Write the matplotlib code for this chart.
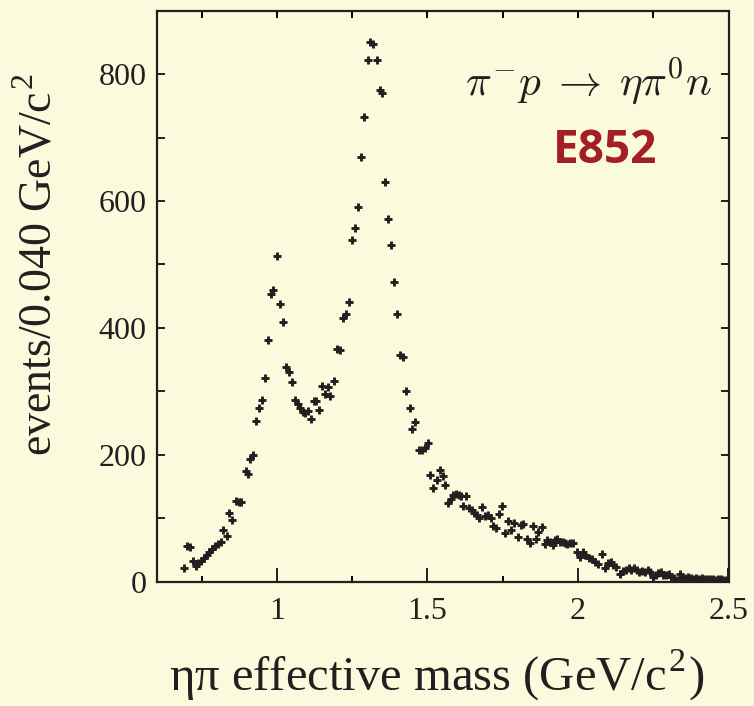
"""eta-pi effective mass spectrum, E852 style."""

import matplotlib
matplotlib.use("Agg")
import matplotlib.pyplot as plt
from matplotlib.ticker import MultipleLocator

# ---------------------------------------------------------------------------
# Data
# ---------------------------------------------------------------------------

mass = [
    0.690, 0.702, 0.711, 0.720, 0.731, 0.739, 0.749, 0.758, 0.767, 0.776,
    0.785, 0.795, 0.804, 0.813, 0.822, 0.833, 0.842, 0.851, 0.864, 0.873,
    0.882, 0.896, 0.903, 0.912, 0.919, 0.932, 0.940, 0.950, 0.960, 0.970,
    0.980, 0.988, 1.000, 1.011, 1.021, 1.030, 1.039, 1.049, 1.061, 1.069,
    1.077, 1.085, 1.093, 1.102, 1.112, 1.123, 1.131, 1.140, 1.150, 1.160,
    1.170, 1.175, 1.191, 1.201, 1.209, 1.221, 1.230, 1.240, 1.250, 1.260,
    1.270, 1.280, 1.290, 1.301, 1.309, 1.318, 1.331, 1.341, 1.350, 1.360,
    1.369, 1.379, 1.390, 1.400, 1.410, 1.420, 1.430, 1.441, 1.450, 1.460,
    1.471, 1.481, 1.491, 1.501, 1.510, 1.520, 1.532, 1.541, 1.551, 1.558,
    1.569, 1.577, 1.586, 1.595, 1.604, 1.613, 1.619, 1.628, 1.639, 1.647,
    1.655, 1.664, 1.672, 1.680, 1.691, 1.702, 1.710, 1.719, 1.727, 1.739,
    1.747, 1.758, 1.768, 1.776, 1.788, 1.801, 1.810, 1.819, 1.830, 1.839,
    1.850, 1.860, 1.868, 1.879, 1.891, 1.898, 1.907, 1.916, 1.924, 1.931,
    1.940, 1.949, 1.957, 1.964, 1.973, 1.984, 1.998, 2.007, 2.016, 2.025,
    2.036, 2.046, 2.057, 2.068, 2.080, 2.090, 2.099, 2.109, 2.118, 2.127,
    2.140, 2.149, 2.158, 2.168, 2.177, 2.187, 2.196, 2.204, 2.213, 2.222,
    2.231, 2.240, 2.249, 2.258, 2.267, 2.275, 2.284, 2.293, 2.302, 2.310,
    2.320, 2.329, 2.338, 2.347, 2.356, 2.366, 2.375, 2.384, 2.393, 2.402,
    2.411, 2.420, 2.429, 2.438, 2.447, 2.456, 2.465, 2.474, 2.483, 2.492,
    2.498,
]

events = [
    21, 57, 54, 33, 25, 29, 33, 38, 42, 47,
    51, 56, 59, 62, 82, 72, 108, 97, 127, 126,
    126, 174, 169, 193, 200, 253, 274, 286, 321, 381,
    453, 459, 514, 438, 410, 338, 330, 315, 286, 280,
    274, 268, 266, 269, 256, 285, 285, 271, 309, 296,
    307, 293, 316, 367, 365, 416, 422, 441, 538, 558,
    591, 670, 733, 823, 850, 847, 823, 775, 771, 630,
    572, 531, 472, 422, 358, 354, 301, 274, 240, 252,
    208, 208, 210, 218, 168, 148, 160, 176, 166, 152,
    124, 131, 137, 138, 137, 135, 119, 135, 116, 113,
    109, 105, 101, 118, 103, 105, 100, 88, 84, 107,
    120, 76, 96, 81, 92, 71, 89, 91, 67, 61,
    88, 67, 79, 86, 60, 65, 63, 58, 66, 67,
    63, 63, 61, 60, 61, 61, 47, 39, 47, 42,
    38, 35, 31, 28, 44, 21, 30, 31, 26, 23,
    12, 17, 19, 21, 19, 21, 18, 16, 17, 16,
    18, 16, 8, 11, 13, 16, 11, 10, 12, 7,
    6, 3, 12, 8, 6, 7, 6, 5, 6, 5,
    6, 5, 4, 5, 4, 3, 5, 4, 3, 2,
    4,
]

BG = "#f9fbdc"
INK = "#231f20"

plt.rcParams["mathtext.fontset"] = "cm"
serif = ["Liberation Serif", "DejaVu Serif"]

fig = plt.figure(figsize=(7.54, 7.06), dpi=100, facecolor=BG)
ax = fig.add_axes([156.5 / 754, 1 - 581.7 / 706, 572 / 754, 571 / 706])
ax.set_facecolor(BG)

ax.plot(mass, events, "+", color=INK, ms=5.8, mew=2.1)

ax.set_xlim(0.6, 2.5)
ax.set_ylim(0, 900)

ax.xaxis.set_major_locator(MultipleLocator(0.5))
ax.xaxis.set_minor_locator(MultipleLocator(0.25))
ax.yaxis.set_major_locator(MultipleLocator(200))
ax.yaxis.set_minor_locator(MultipleLocator(100))
ax.set_xticks([1, 1.5, 2, 2.5])
ax.set_xticklabels(["1", "1.5", "2", "2.5"])

for s in ax.spines.values():
    s.set_linewidth(1.6)
    s.set_color(INK)

ax.tick_params(axis="x", which="major", direction="in", length=10, width=1.4,
               top=False, pad=11, labelsize=23, colors=INK)
ax.tick_params(axis="x", which="minor", direction="in", length=4.5, width=1.4,
               top=False)
ax.tick_params(axis="y", which="both", direction="in", length=5.5, width=1.4,
               right=True, pad=7, labelsize=23, colors=INK)

# top ticks, all the same length
top = ax.secondary_xaxis("top")
top.set_xticks([0.75, 1.0, 1.25, 1.5, 1.75, 2.0, 2.25])
top.tick_params(direction="in", length=5, width=1.4, labeltop=False)
top.spines["top"].set_visible(False)

for lab in ax.get_xticklabels() + ax.get_yticklabels():
    lab.set_family(serif)

# axis titles placed in figure pixels, as in the reference
fig.text(436.5 / 754, 1 - 675 / 706,
         r"ηπ effective mass (GeV/c$^{\mathregular{2}}$)",
         fontsize=35, family=serif, ha="center", va="center", color=INK)
fig.text(40 / 754, 1 - 265 / 706,
         r"events/0.040 GeV/c$^{\mathregular{2}}$",
         fontsize=33, family=serif, rotation=90, ha="center", va="center",
         color=INK)

ax.text(0.971, 0.875, r"$\pi^{-}p\;\rightarrow\;\eta\pi^{0}n$",
        transform=ax.transAxes, ha="right", va="center", fontsize=31,
        color=INK)
ax.text(0.784, 0.756, "E852", transform=ax.transAxes, ha="center",
        va="center", fontsize=33, fontweight="bold", family="Open Sans",
        color="#a31f24")

fig.savefig("out.png", dpi=100, facecolor=BG)
